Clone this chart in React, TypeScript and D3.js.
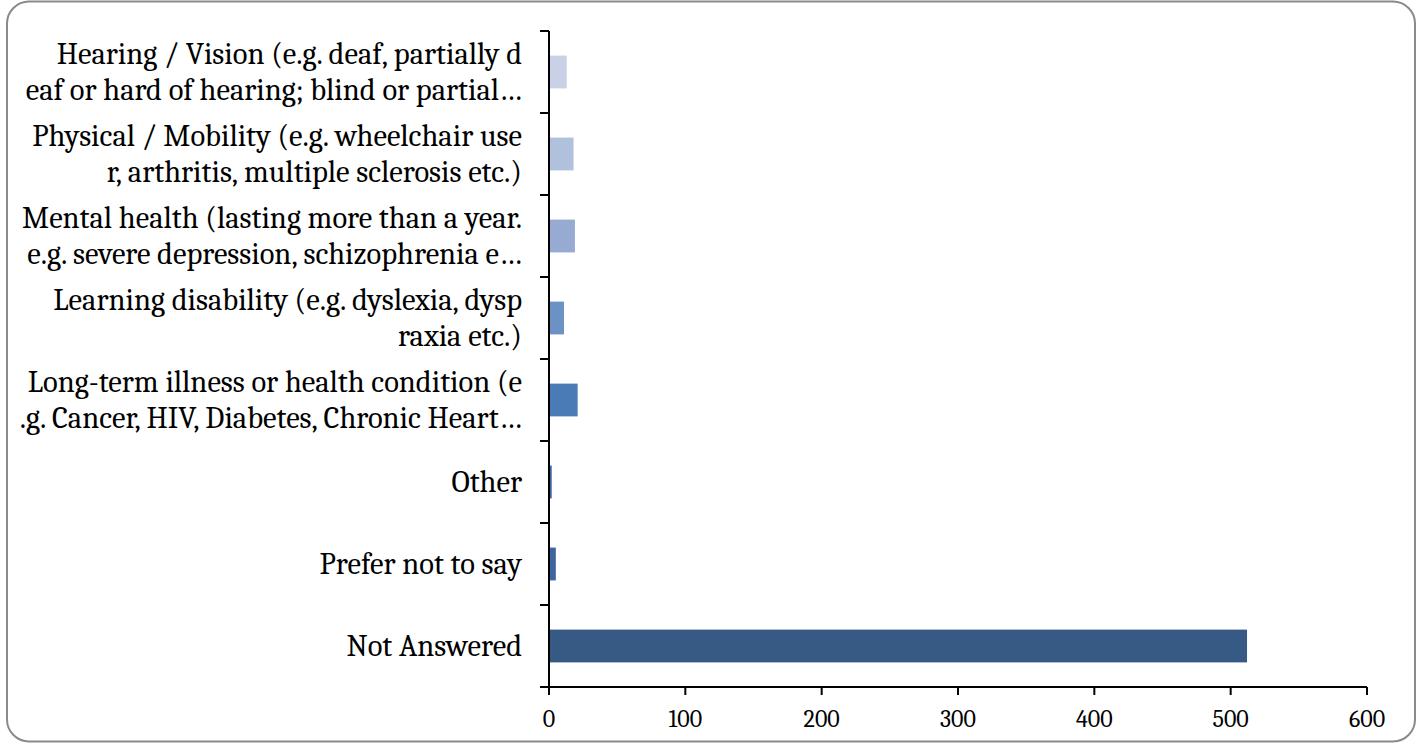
import { useRef, useEffect } from 'react'
import * as d3 from 'd3'

// categories top to bottom, each label split the way the chart wraps it
const categories = [
  ['Hearing / Vision (e.g. deaf, partially d', 'eaf or hard of hearing; blind or partial…'],
  ['Physical / Mobility (e.g. wheelchair use', 'r, arthritis, multiple sclerosis etc.)'],
  ['Mental health (lasting more than a year.', 'e.g. severe depression, schizophrenia e…'],
  ['Learning disability (e.g. dyslexia, dysp', 'raxia etc.)'],
  ['Long-term illness or health condition (e', '.g. Cancer, HIV, Diabetes, Chronic Heart…'],
  ['Other'],
  ['Prefer not to say'],
  ['Not Answered'],
]
const values = [13, 18, 19, 11, 21, 2, 5, 512]
const barColors = ['#c8d1e6', '#b0c1dd', '#97aad2', '#6b91c5', '#4a7bb6', '#3d68a3', '#3d65a0', '#375a85']
const xTicks = [0, 100, 200, 300, 400, 500, 600]

export default function App() {
  const svgRef = useRef<SVGSVGElement>(null)

  useEffect(() => {
    if (!svgRef.current) return
    const svg = d3.select(svgRef.current)
    svg.selectAll('*').remove()

    const width = 1421
    const height = 744
    const margin = { top: 31, right: 54, bottom: 57, left: 549 }
    const font = "Cambria, 'Liberation Serif', serif"

    // rounded frame
    svg.append('rect')
      .attr('x', 7).attr('y', 1.5)
      .attr('width', 1408).attr('height', 740)
      .attr('rx', 22).attr('ry', 22)
      .attr('fill', '#fff')
      .attr('stroke', '#8a8a8a')
      .attr('stroke-width', 2)

    const x = d3.scaleLinear().domain([0, 600]).range([margin.left, width - margin.right])
    const y = d3.scaleBand<number>()
      .domain(d3.range(categories.length))
      .range([margin.top, height - margin.bottom])
      .paddingInner(0.6)
      .paddingOuter(0.3)
    const step = y.step()
    const y0 = margin.top
    const y1 = height - margin.bottom

    // bars
    svg.append('g')
      .selectAll('rect')
      .data(values)
      .join('rect')
      .attr('x', x(0))
      .attr('y', (_, i) => y(i)!)
      .attr('width', (d) => x(d) - x(0))
      .attr('height', y.bandwidth())
      .attr('fill', (_, i) => barColors[i])

    // category labels
    const lh = 36
    const labels = svg.append('g')
      .attr('font-family', font)
      .attr('font-size', 30.5)
      .attr('fill', '#000')
      .attr('text-anchor', 'end')
    categories.forEach((lines, i) => {
      const cy = y(i)! + y.bandwidth() / 2
      const t = labels.append('text').attr('x', margin.left - 27)
      lines.forEach((line, j) => {
        t.append('tspan')
          .attr('x', margin.left - 27)
          .attr('y', cy + (j - (lines.length - 1) / 2) * lh + 10)
          .text(line)
      })
    })

    // y axis with ticks at category boundaries
    const axis = svg.append('g').attr('stroke', '#000').attr('stroke-width', 2)
    axis.append('line')
      .attr('x1', x(0)).attr('x2', x(0))
      .attr('y1', y0).attr('y2', y1 + 8)
    d3.range(categories.length + 1).forEach((k) => {
      axis.append('line')
        .attr('x1', x(0) - 9).attr('x2', x(0))
        .attr('y1', y0 + k * step).attr('y2', y0 + k * step)
    })

    // x axis
    axis.append('line')
      .attr('x1', x(0) - 9).attr('x2', x(600))
      .attr('y1', y1).attr('y2', y1)
    xTicks.forEach((t) => {
      axis.append('line')
        .attr('x1', x(t)).attr('x2', x(t))
        .attr('y1', y1).attr('y2', y1 + 8)
    })
    svg.append('g')
      .attr('font-family', font)
      .attr('font-size', 24)
      .attr('text-anchor', 'middle')
      .selectAll('text')
      .data(xTicks)
      .join('text')
      .attr('x', (d) => x(d))
      .attr('y', y1 + 40)
      .text((d) => String(d))
  }, [])

  return (
    <div style={{ position: 'absolute', left: 0, top: 0, width: 1421, height: 744, background: '#fff' }}>
      <svg ref={svgRef} width={1421} height={744} style={{ display: 'block' }} />
    </div>
  )
}
